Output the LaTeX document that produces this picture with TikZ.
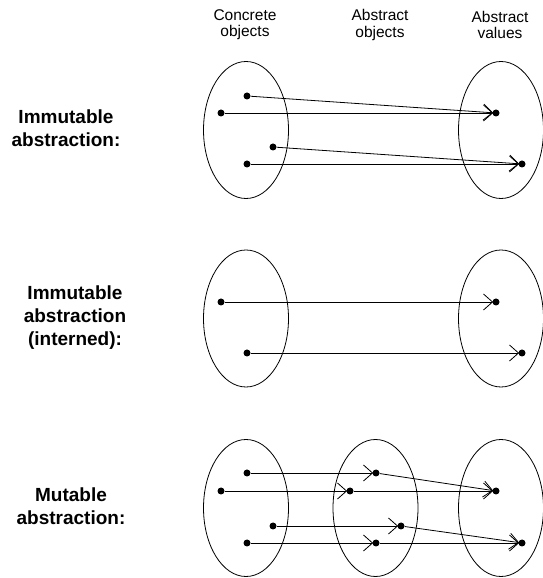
\documentclass[tikz,border=0pt]{standalone}
\usepackage{fontspec}
\setmainfont{Liberation Sans}
\usetikzlibrary{arrows.meta,positioning}

\begin{document}
\begin{tikzpicture}[x=1pt,y=1pt,line width=.8pt,
  dot/.style={circle,fill,inner sep=0pt,minimum size=7pt},
  arr/.style={-{Straight Barb[length=9pt,width=16pt,line width=.8pt]},shorten >=-1pt},
  colhead/.style={align=center,font=\fontsize{15.5}{16}\selectfont},
  rowhead/.style={align=center,font=\fontsize{19}{23}\selectfont\bfseries}]
\useasboundingbox (0,0) rectangle (543,578);
\node[colhead] (hc) at (245,553) {Concrete\\objects};
\node[colhead] (ho) at (380,553) {Abstract\\objects};
\node[colhead] (hv) at (500,553) {Abstract\\values};
\node[rowhead] (rim) at (66,449.5) {Immutable\\abstraction:};
\node[rowhead] (rin) at (75,260) {Immutable\\abstraction\\(interned):};
\node[rowhead] (rmu) at (71,71.5) {Mutable\\abstraction:};
\draw (246,448) ellipse (42.5 and 68.5);
\draw (501,448) ellipse (42.5 and 68.5);
\draw (246,259.5) ellipse (42.5 and 68.5);
\draw (501,259.5) ellipse (42.5 and 68.5);
\draw (246,70) ellipse (42.5 and 68.5);
\draw (375.5,70) ellipse (42.5 and 68.5);
\draw (501,70) ellipse (42.5 and 68.5);
\node[dot] (imc1) at (247,482) {};
\node[dot] (imc2) at (221,465) {};
\node[dot] (imc3) at (273,431) {};
\node[dot] (imc4) at (247,414) {};
\node[dot] (imv1) at (496,465) {};
\node[dot] (imv2) at (522,414) {};
\draw[arr] (imc1)--(imv1);
\draw[arr] (imc2)--(imv1);
\draw[arr] (imc3)--(imv2);
\draw[arr] (imc4)--(imv2);
\node[dot] (inc1) at (221,276) {};
\node[dot] (inc2) at (247,225) {};
\node[dot] (inv1) at (496,276) {};
\node[dot] (inv2) at (522,225) {};
\draw[arr] (inc1)--(inv1);
\draw[arr] (inc2)--(inv2);
\node[dot] (muc1) at (247,105) {};
\node[dot] (muc2) at (221,87) {};
\node[dot] (muc3) at (273,52) {};
\node[dot] (muc4) at (247,35) {};
\node[dot] (muo1) at (376,105) {};
\node[dot] (muo2) at (350,87) {};
\node[dot] (muo3) at (401,52) {};
\node[dot] (muo4) at (376,35) {};
\node[dot] (muv1) at (496,87) {};
\node[dot] (muv2) at (522,35) {};
\draw[arr] (muc1)--(muo1);
\draw[arr] (muc2)--(muo2);
\draw[arr] (muc3)--(muo3);
\draw[arr] (muc4)--(muo4);
\draw[arr] (muo1)--(muv1);
\draw[arr] (muo2)--(muv1);
\draw[arr] (muo3)--(muv2);
\draw[arr] (muo4)--(muv2);
\end{tikzpicture}
\end{document}
